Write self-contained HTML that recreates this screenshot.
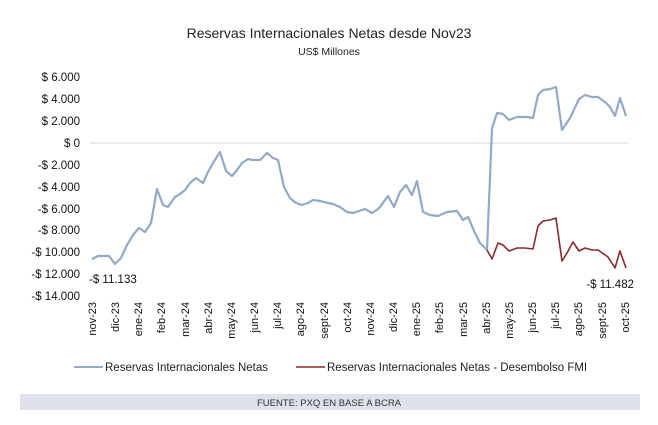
<!DOCTYPE html>
<html><head><meta charset="utf-8"><style>
body{margin:0;background:#fff;width:658px;height:420px;overflow:hidden;font-family:"Liberation Sans",sans-serif;}
svg text{font-family:"Liberation Sans",sans-serif;}
</style></head><body>
<svg width="658" height="420" viewBox="0 0 658 420">
<text x="329" y="38" text-anchor="middle" font-size="14" fill="#222">Reservas Internacionales Netas desde Nov23</text>
<text x="329" y="55" text-anchor="middle" font-size="10.5" fill="#222">US$ Millones</text>
<g font-size="11.5" fill="#111" text-anchor="end">
<text x="80" y="81">$ 6.000</text>
<text x="80" y="103">$ 4.000</text>
<text x="80" y="125">$ 2.000</text>
<text x="80" y="147">$ 0</text>
<text x="80" y="169">-$ 2.000</text>
<text x="80" y="191">-$ 4.000</text>
<text x="80" y="213">-$ 6.000</text>
<text x="80" y="234">-$ 8.000</text>
<text x="80" y="256">-$ 10.000</text>
<text x="80" y="278">-$ 12.000</text>
<text x="80" y="300">-$ 14.000</text>
</g>
<line x1="90" y1="143" x2="628" y2="143" stroke="#d9d9d9" stroke-width="1"/>
<polyline fill="none" stroke="#92a9c8" stroke-width="2.2" stroke-linejoin="round" points="92,259 98,256 109,256 115,264 121,258 127,245 133,235 139,228 145,232 151,223 157,189 163,205 168,207 175,197 180,194 185,190 190,183 196,178 203,183 208,172 213,163 220,152 226,171 232,176 237,170 242,163 248,159 253,160 260,160 267,153 273,158 278,160 284,187 290,198 296,203 302,205 308,203 313,200 320,201 328,203 333,204 340,207 347,212 353,213 359,211 365,209 372,213 378,209 380,207 388,196 394,207 400,192 406,185 412,195 417,181 423,212 430,215 438,216 447,212 457,211 463,220 468,217 475,233 480,243 487,250 492,128 497,113 503,114 509,120 517,117 527,117 533,118 538,95 543,90 550,89 556,87 562,130 570,118 579,99 585,95 592,97 598,97 605,102 610,107 615,116 620,98 626,116"/>
<polyline fill="none" stroke="#8b2a2a" stroke-width="1.6" stroke-linejoin="round" points="487,250 492,259 498,243 503,245 509,251 517,248 525,248 533,249 538,226 543,221 550,220 556,218 562,261 567,253 573,242 579,251 585,248 592,250 598,250 608,257 615,268 620,251 626,268"/>
<text x="89" y="283" font-size="11.5" fill="#111">-$ 11.133</text>
<text x="634" y="288" font-size="11.5" fill="#111" text-anchor="end">-$ 11.482</text>
<g font-size="11" fill="#111" text-anchor="end">
<text transform="translate(96,302) rotate(-90)">nov-23</text>
<text transform="translate(119,302) rotate(-90)">dic-23</text>
<text transform="translate(142,302) rotate(-90)">ene-24</text>
<text transform="translate(165,302) rotate(-90)">feb-24</text>
<text transform="translate(189,302) rotate(-90)">mar-24</text>
<text transform="translate(212,302) rotate(-90)">abr-24</text>
<text transform="translate(235,302) rotate(-90)">may-24</text>
<text transform="translate(258,302) rotate(-90)">jun-24</text>
<text transform="translate(281,302) rotate(-90)">jul-24</text>
<text transform="translate(304,302) rotate(-90)">ago-24</text>
<text transform="translate(328,302) rotate(-90)">sept-24</text>
<text transform="translate(351,302) rotate(-90)">oct-24</text>
<text transform="translate(374,302) rotate(-90)">nov-24</text>
<text transform="translate(397,302) rotate(-90)">dic-24</text>
<text transform="translate(420,302) rotate(-90)">ene-25</text>
<text transform="translate(443,302) rotate(-90)">feb-25</text>
<text transform="translate(467,302) rotate(-90)">mar-25</text>
<text transform="translate(490,302) rotate(-90)">abr-25</text>
<text transform="translate(513,302) rotate(-90)">may-25</text>
<text transform="translate(536,302) rotate(-90)">jun-25</text>
<text transform="translate(559,302) rotate(-90)">jul-25</text>
<text transform="translate(582,302) rotate(-90)">ago-25</text>
<text transform="translate(606,302) rotate(-90)">sept-25</text>
<text transform="translate(629,302) rotate(-90)">oct-25</text>
</g>
<line x1="74" y1="367" x2="103" y2="367" stroke="#92a9c8" stroke-width="2"/>
<text x="105" y="371" font-size="11.5" fill="#222">Reservas Internacionales Netas</text>
<line x1="296" y1="367" x2="325" y2="367" stroke="#8b2a2a" stroke-width="1.6"/>
<text x="327" y="371" font-size="11.5" fill="#222">Reservas Internacionales Netas - Desembolso FMI</text>
<rect x="20" y="394" width="620" height="16" fill="#dfe1ea"/>
<text x="329" y="406" text-anchor="middle" font-size="9.5" fill="#333">FUENTE: PXQ EN BASE A BCRA</text>
</svg>
</body></html>
